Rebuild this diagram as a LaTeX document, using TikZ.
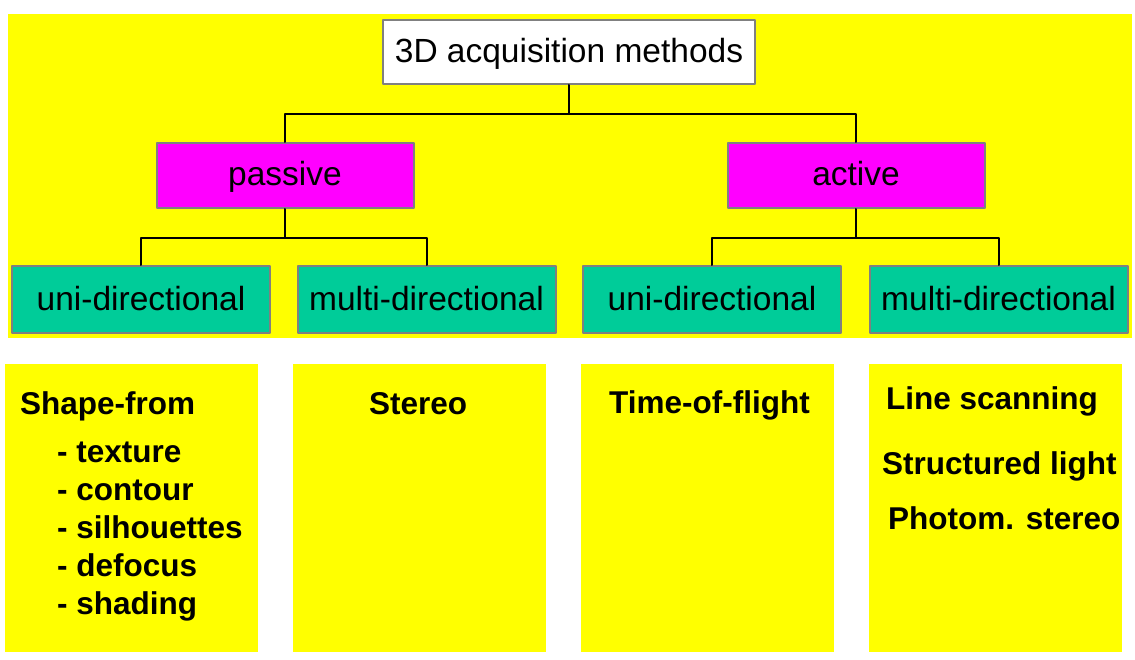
\documentclass[tikz,border=0pt]{standalone}
\usepackage{fontspec}
\setmainfont{Liberation Sans}
\usepackage{tikz}
\tikzset{>=latex}
\usepackage{xcolor}
\definecolor{myyellow}{RGB}{255,255,0}
\definecolor{mymagenta}{RGB}{255,0,255}
\definecolor{myteal}{RGB}{0,204,153}
\colorlet{mygray}{black!50}

\begin{document}
\begin{tikzpicture}[x=1pt, y=-1pt, % unidades em pixels, y para baixo
                    line cap=round, line join=round,
                    box/.style={draw=mygray, line width=2pt, minimum height=65pt,
                                text height=26pt, text depth=5pt, inner sep=0pt,
                                font=\fontsize{33.5}{40}\selectfont},
                    root/.style={box, fill=white, minimum width=372pt, minimum height=64pt},
                    class/.style={box, fill=mymagenta, minimum width=257pt},
                    kind/.style={box, fill=myteal, minimum width=258pt, minimum height=67pt},
                    panel/.style={fill=myyellow, minimum width=253pt, minimum height=288pt, inner sep=0pt},
                    method/.style={anchor=base west, inner sep=0pt,
                                   font=\fontsize{31.5}{38}\selectfont\bfseries},
                    link/.style={black, line width=2pt}]
  \def\drop{29} % altura dos conectores

% Fundo e moldura
  \fill[white] (0,0) rectangle (1135,660);
  \useasboundingbox (0,0) rectangle (1135,660);
  \fill[myyellow] (8,14) rectangle (1132,338);

% Arvore de classificacao
  \node[root]  (root)    at (569,52)      {3D acquisition methods};
  \node[class] (passive) at (285,175.5)   {passive};
  \node[class] (active)  at (856,175.5)   {active};
  \node[kind]  (puni)    at (141,299.5)   {uni-directional};
  \node[kind]  (pmulti)  at (426.5,299.5) {multi-directional};
  \node[kind]  (auni)    at (712,299.5)   {uni-directional};
  \node[kind]  (amulti)  at (998.5,299.5) {multi-directional};

% Conectores em forma de arvore
  \foreach \parent/\lchild/\rchild in {root/passive/active, passive/puni/pmulti, active/auni/amulti}{
    \draw[link] (\parent.south) -- ++(0,\drop) coordinate (split) -| (\lchild.north);
    \draw[link] (split) -| (\rchild.north);
  }

% Paineis com os metodos
  \foreach \iPanel/\xc in {1/131.5, 2/419.5, 3/707.5, 4/995.5}{
    \node[panel] (panel\iPanel) at (\xc,508) {};
  }

  \node[method] (shape) at (20,414) {Shape-from};
  \foreach \cue [count=\k from 0] in {texture,contour,silhouettes,defocus,shading}{
    \node[method] (cue\k) at (57,{462+38*\k}) {- \cue};
  }
  \node[method] (stereo)     at (369,414) {Stereo};
  \node[method] (tof)        at (609,413) {Time-of-flight};
  \node[method] (linescan)   at (886,409) {Line scanning};
  \node[method] (structured) at (882,474) {Structured light};
  \node[method] (photom)     at (888,529) {Photom. stereo};
\end{tikzpicture}
\end{document}
